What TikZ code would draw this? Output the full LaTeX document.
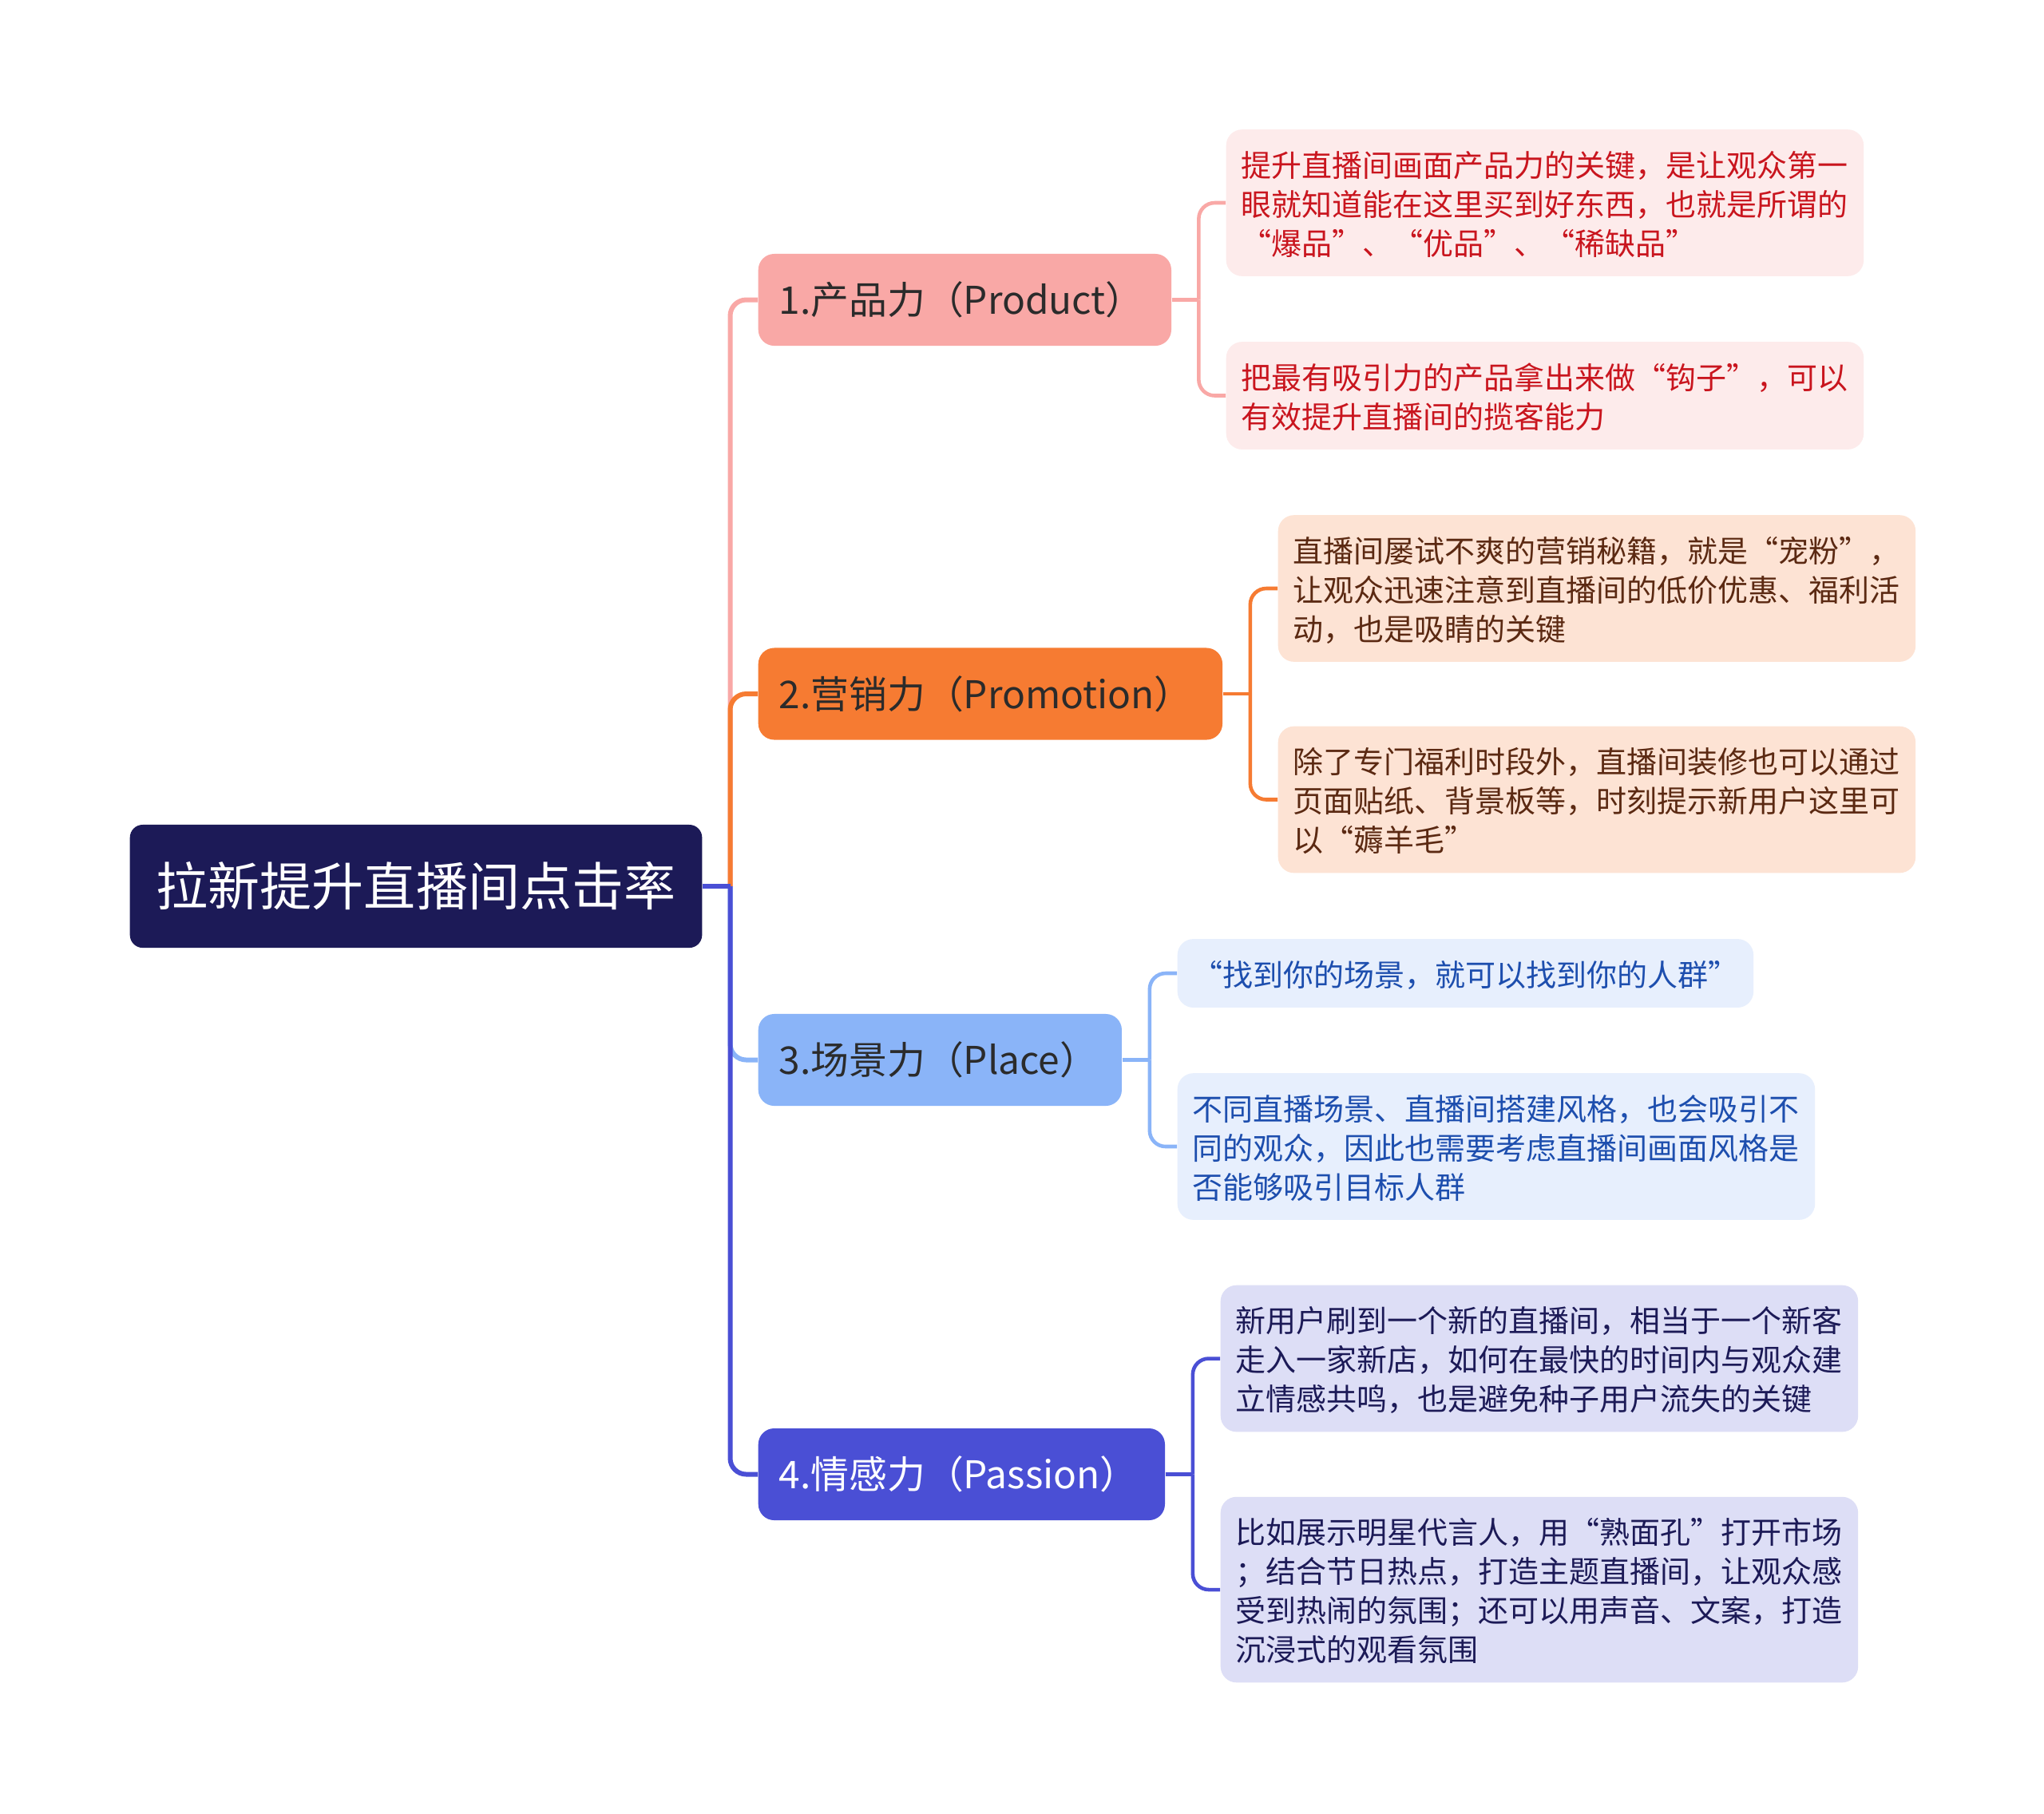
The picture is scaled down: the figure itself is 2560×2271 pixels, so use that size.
\documentclass[tikz,border=0pt]{standalone}
\usepackage{fontspec}
\setmainfont{Noto Sans CJK SC}
\usetikzlibrary{calc}
\definecolor{rootc}{HTML}{1C1A57}
\definecolor{brtext}{HTML}{2B2B2B}
\definecolor{prodc}{HTML}{F9A8A6}
\definecolor{promoc}{HTML}{F67B32}
\definecolor{placec}{HTML}{8AB4F8}
\definecolor{passc}{HTML}{4A4FD5}
\definecolor{prodl}{HTML}{FDEBEB}
\definecolor{promol}{HTML}{FDE3D4}
\definecolor{placel}{HTML}{E7EFFD}
\definecolor{passl}{HTML}{DDDEF6}
\definecolor{prodt}{HTML}{C9151E}
\definecolor{promot}{HTML}{5B2912}
\definecolor{placet}{HTML}{1D4EAE}
\definecolor{passt}{HTML}{1C1A57}
\newcommand\leafstrut{\rule[-0.167\baselineskip]{0pt}{\baselineskip}}
\tikzset{
  rootbox/.style={fill=rootc,text=white,rounded corners=0.16cm,anchor=west,inner xsep=0.33cm,minimum height=1.54cm,font=\fontsize{18.5}{22}\selectfont},
  branch/.style={rounded corners=0.2cm,anchor=west,inner xsep=0.26cm,minimum height=1.15cm,align=left,text=brtext,font=\fontsize{13.6}{16}\selectfont},
  leaf/.style={rounded corners=0.2cm,anchor=west,inner xsep=0.19cm,inner ysep=0.185cm,text width=7.6cm,align=left,
    font=\fontsize{10.8}{13.9}\selectfont,execute at begin node=\leafstrut,execute at end node=\leafstrut},
  trunk/.style={line width=1.7pt,rounded corners=0.2cm},
  twig/.style={line width=1.3pt,rounded corners=0.2cm}
}
\begin{document}
\begin{tikzpicture}[x=0.01cm,y=-0.01cm]
\useasboundingbox[fill=white] (0,0) rectangle (2560,2271);
\node[rootbox] (root) at (162,1110) {拉新提升直播间点击率};
\node[branch,fill=prodc,text width=4.65cm] (prod) at (949,375.5) {1.产品力（Product）};
\node[branch,fill=promoc,text width=5.29cm] (promo) at (949,869) {2.营销力（Promotion）};
\node[branch,fill=placec,text width=4.03cm] (place) at (949,1327.5) {3.场景力（Place）};
\node[branch,fill=passc,text=white,text width=4.57cm] (pass) at (949,1846.5) {4.情感力（Passion）};
\node[leaf,fill=prodl,text=prodt] (prodA) at (1535,254) {提升直播间画面产品力的关键，是让观众第一\\眼就知道能在这里买到好东西，也就是所谓的\\“爆品”、“优品”、“稀缺品”};
\node[leaf,fill=prodl,text=prodt] (prodB) at (1535,495.5) {把最有吸引力的产品拿出来做“钩子”，可以\\有效提升直播间的揽客能力};
\node[leaf,fill=promol,text=promot] (promoA) at (1600,737) {直播间屡试不爽的营销秘籍，就是“宠粉”，\\让观众迅速注意到直播间的低价优惠、福利活\\动，也是吸睛的关键};
\node[leaf,fill=promol,text=promot] (promoB) at (1600,1001.5) {除了专门福利时段外，直播间装修也可以通过\\页面贴纸、背景板等，时刻提示新用户这里可\\以“薅羊毛”};
\node[leaf,fill=placel,text=placet,text width=6.83cm] (placeA) at (1474,1219) {“找到你的场景，就可以找到你的人群”};
\node[leaf,fill=placel,text=placet] (placeB) at (1474,1436) {不同直播场景、直播间搭建风格，也会吸引不\\同的观众，因此也需要考虑直播间画面风格是\\否能够吸引目标人群};
\node[leaf,fill=passl,text=passt] (passA) at (1528,1701.5) {新用户刷到一个新的直播间，相当于一个新客\\走入一家新店，如何在最快的时间内与观众建\\立情感共鸣，也是避免种子用户流失的关键};
\node[leaf,fill=passl,text=passt] (passB) at (1528,1991) {比如展示明星代言人，用“熟面孔”打开市场\\；结合节日热点，打造主题直播间，让观众感\\受到热闹的氛围；还可以用声音、文案，打造\\沉浸式的观看氛围};
\coordinate (hub) at ($(root.east)!0.5!(root.east -| prod.west)$);
\foreach \b/\c/\l/\m in {prod/prodc/prodA/prodB,promo/promoc/promoA/promoB,place/placec/placeA/placeB,pass/passc/passA/passB} {
  \coordinate (\b-j) at ($(\b.east)!0.5!(\b.east -| \l.west)$);
  \draw[trunk,\c] (hub) |- (\b.west);
  \draw[twig,\c] (\b.east) -- (\b-j);
  \draw[twig,\c] (\b-j) |- (\l.west);
  \draw[twig,\c] (\b-j) |- (\m.west);
}
\draw[trunk,passc] (root.east) -- (hub);
\end{tikzpicture}
\end{document}
